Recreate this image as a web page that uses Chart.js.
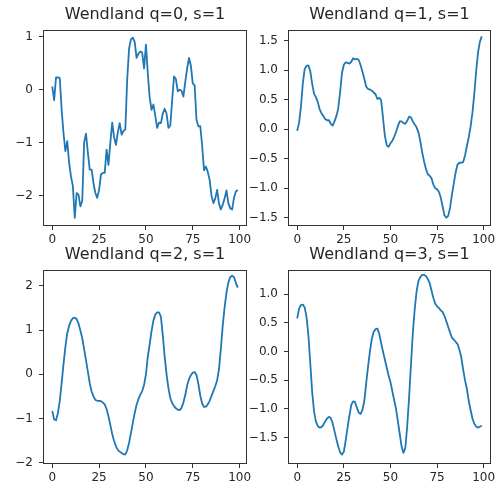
<!DOCTYPE html>
<html>
<head>
<meta charset="utf-8">
<title>Wendland covariance samples</title>
<script src="https://cdn.jsdelivr.net/npm/chart.js@4.4.1/dist/chart.umd.min.js"></script>
<style>
  html, body { margin: 0; padding: 0; background: #fff; }
  body { width: 495px; height: 488px; position: relative; overflow: hidden; }
  canvas { position: absolute; }
</style>
</head>
<body>
<canvas id="p0" width="255" height="250" style="left:0px;top:0px"></canvas>
<canvas id="p1" width="255" height="250" style="left:240px;top:0px"></canvas>
<canvas id="p2" width="255" height="248" style="left:0px;top:240px"></canvas>
<canvas id="p3" width="255" height="248" style="left:240px;top:240px"></canvas>
<script>
// Sampled paths, one value per index 0..99
const wendlandQ0 = [
  0.06, -0.2, 0.23, 0.23, 0.22, -0.38, -0.82, -1.16, -0.97, -1.38,
  -1.64, -1.82, -2.42, -1.95, -1.98, -2.2, -2.1, -1.0, -0.83, -1.19,
  -1.51, -1.51, -1.76, -1.95, -2.04, -1.89, -1.6, -1.57, -1.57, -1.13,
  -1.42, -1.0, -0.62, -0.9, -1.04, -0.8, -0.63, -0.85, -0.78, -0.75,
  0.2, 0.78, 0.95, 0.98, 0.9, 0.6, 0.68, 0.72, 0.7, 0.4,
  0.85, 0.3, -0.15, -0.38, -0.28, -0.5, -0.72, -0.62, -0.63, -0.45,
  -0.36, -0.45, -0.72, -0.68, -0.2, 0.25, 0.2, -0.03, 0.0, -0.02,
  -0.13, 0.15, 0.4, 0.6, 0.45, 0.12, 0.08, -0.57, -0.69, -0.69,
  -1.05, -1.52, -1.45, -1.55, -1.7, -2.0, -2.14, -2.05, -1.89, -2.15,
  -2.26, -2.17, -2.05, -1.9, -2.14, -2.24, -2.26, -2.04, -1.92, -1.89
];
const wendlandQ1 = [
  -0.03, 0.11, 0.38, 0.77, 1.02, 1.07, 1.08, 0.98, 0.77, 0.6,
  0.54, 0.46, 0.34, 0.27, 0.22, 0.17, 0.15, 0.15, 0.09, 0.06,
  0.13, 0.22, 0.35, 0.62, 0.95, 1.09, 1.13, 1.12, 1.11, 1.14,
  1.2, 1.18, 1.19, 1.17, 1.08, 0.97, 0.85, 0.72, 0.68, 0.67,
  0.65, 0.62, 0.59, 0.51, 0.53, 0.49, 0.2, -0.11, -0.27, -0.3,
  -0.24, -0.2, -0.13, -0.05, 0.05, 0.13, 0.13, 0.1, 0.09, 0.14,
  0.21, 0.2, 0.13, 0.08, 0.03, -0.05, -0.2, -0.39, -0.54, -0.67,
  -0.76, -0.79, -0.83, -0.94, -1.0, -1.02, -1.06, -1.16, -1.31, -1.46,
  -1.5, -1.47, -1.33, -1.11, -0.92, -0.73, -0.6, -0.57, -0.57, -0.56,
  -0.45, -0.29, -0.14, 0.04, 0.28, 0.6, 0.98, 1.3, 1.48, 1.57
];
const wendlandQ2 = [
  -0.83, -1.02, -1.04, -0.88, -0.6, -0.2, 0.23, 0.62, 0.93, 1.1,
  1.21, 1.27, 1.28, 1.25, 1.15, 0.99, 0.82, 0.57, 0.32, 0.06,
  -0.2, -0.39, -0.5, -0.58, -0.6, -0.6, -0.61, -0.64, -0.68, -0.79,
  -0.95, -1.15, -1.35, -1.51, -1.63, -1.71, -1.75, -1.78, -1.81, -1.81,
  -1.72, -1.55, -1.33, -1.1, -0.88, -0.69, -0.56, -0.46, -0.38, -0.24,
  0.0, 0.4, 0.68, 0.98, 1.22, 1.35, 1.4, 1.4, 1.3, 0.88,
  0.4, 0.0, -0.31, -0.54, -0.65, -0.72, -0.77, -0.8, -0.81, -0.76,
  -0.64, -0.47, -0.25, -0.11, -0.02, 0.04, 0.05, -0.02, -0.22, -0.48,
  -0.66, -0.74, -0.73, -0.68, -0.6, -0.49, -0.38, -0.27, -0.14, 0.12,
  0.58, 1.1, 1.52, 1.85, 2.08, 2.2, 2.23, 2.2, 2.07, 1.96
];
const wendlandQ3 = [
  0.58, 0.75, 0.81, 0.82, 0.77, 0.6, 0.28, -0.2, -0.7, -1.04,
  -1.22, -1.3, -1.33, -1.32, -1.28, -1.22, -1.17, -1.14, -1.16, -1.25,
  -1.39, -1.53, -1.66, -1.76, -1.8, -1.75, -1.55, -1.33, -1.12, -0.93,
  -0.87, -0.88, -0.98, -1.07, -1.09, -1.02, -0.86, -0.55, -0.26, 0.0,
  0.22, 0.34, 0.39, 0.4, 0.31, 0.15, 0.0, -0.14, -0.28, -0.42,
  -0.53, -0.69, -0.85, -1.0, -1.22, -1.44, -1.66, -1.77, -1.68, -1.3,
  -0.81, -0.24, 0.32, 0.73, 1.04, 1.23, 1.3, 1.34, 1.34, 1.32,
  1.27, 1.2, 1.07, 0.94, 0.84, 0.79, 0.76, 0.72, 0.69, 0.62,
  0.53, 0.43, 0.33, 0.24, 0.21, 0.17, 0.13, 0.03, -0.1, -0.31,
  -0.5, -0.65, -0.86, -1.02, -1.17, -1.26, -1.31, -1.33, -1.31, -1.3
];

const panelTitles = ['Wendland q=0, s=1', 'Wendland q=1, s=1', 'Wendland q=2, s=1', 'Wendland q=3, s=1'];

// Tick positions
const xTicks = [0, 25, 50, 75, 100];
const yTicksQ0 = [-2, -1, 0, 1];
const yTicksQ1 = [-1.5, -1.0, -0.5, 0.0, 0.5, 1.0, 1.5];
const yTicksQ2 = [-2, -1, 0, 1, 2];
const yTicksQ3 = [-1.5, -1.0, -0.5, 0.0, 0.5, 1.0];

// Axis view limits
const xLimits = [-4.95, 103.95];
const yLimitsQ0 = [-2.572, 1.126];
const yLimitsQ1 = [-1.641, 1.678];
const yLimitsQ2 = [-2.03, 2.36];
const yLimitsQ3 = [-1.964, 1.424];

Chart.defaults.font.family = "'DejaVu Sans', sans-serif";

const TEXT = '#262626';
const SPINE = '#333333';
const TICK_FONT = { family: "'DejaVu Sans', sans-serif", size: 12 };

function tickText(v, decimals) {
  const s = Math.abs(v).toFixed(decimals);
  return (v < 0 ? '\u2212' : '') + s;
}

// Closed box around the plotting area
const axesFrame = {
  id: 'axesFrame',
  afterDraw(chart) {
    const a = chart.chartArea;
    const ctx = chart.ctx;
    ctx.save();
    ctx.strokeStyle = SPINE;
    ctx.lineWidth = 1;
    ctx.strokeRect(a.left + 0.5, a.top + 0.5, a.right - a.left - 1, a.bottom - a.top - 1);
    ctx.restore();
  }
};

function panel(canvasId, title, values, yLimits, yTicks, decimals, yAxisWidth, padRight) {
  const points = values.map((v, i) => ({ x: i, y: v }));
  return new Chart(document.getElementById(canvasId), {
    type: 'line',
    data: {
      datasets: [{
        data: points,
        borderColor: '#1f77b4',
        borderWidth: 1.8,
        pointRadius: 0,
        tension: 0,
        fill: false,
        borderJoinStyle: 'round'
      }]
    },
    options: {
      responsive: false,
      animation: false,
      events: [],
      layout: { padding: { top: 7, right: padRight, left: 0, bottom: 0 } },
      plugins: {
        legend: { display: false },
        tooltip: { enabled: false },
        title: {
          display: true,
          text: title,
          fullSize: false,
          color: TEXT,
          font: { family: "'DejaVu Sans', sans-serif", size: 16, weight: 'normal', lineHeight: 1 },
          padding: { top: 0, bottom: 7 }
        }
      },
      scales: {
        x: {
          type: 'linear',
          bounds: 'data',
          min: xLimits[0],
          max: xLimits[1],
          afterBuildTicks: (s) => { s.ticks = xTicks.map(v => ({ value: v })); },
          afterFit: (s) => { s.height = 24; s.paddingLeft = 0; s.paddingRight = 0; },
          grid: { display: true, drawOnChartArea: false, drawTicks: true, tickLength: 4, color: SPINE, lineWidth: 1 },
          border: { display: false },
          ticks: {
            color: TEXT, font: TICK_FONT, padding: 3, maxRotation: 0, autoSkip: false,
            callback: (v) => tickText(v, 0)
          }
        },
        y: {
          type: 'linear',
          bounds: 'data',
          min: yLimits[0],
          max: yLimits[1],
          afterBuildTicks: (s) => { s.ticks = yTicks.map(v => ({ value: v })); },
          afterFit: (s) => { s.width = yAxisWidth; s.paddingTop = 0; s.paddingBottom = 0; },
          grid: { display: true, drawOnChartArea: false, drawTicks: true, tickLength: 4, color: SPINE, lineWidth: 1 },
          border: { display: false },
          ticks: {
            color: TEXT, font: TICK_FONT, padding: 6, autoSkip: false,
            callback: (v) => tickText(v, decimals)
          }
        }
      }
    },
    plugins: [axesFrame]
  });
}

panel('p0', panelTitles[0], wendlandQ0, yLimitsQ0, yTicksQ0, 0, 43, 8);
panel('p1', panelTitles[1], wendlandQ1, yLimitsQ1, yTicksQ1, 1, 48, 4);
panel('p2', panelTitles[2], wendlandQ2, yLimitsQ2, yTicksQ2, 0, 43, 8);
panel('p3', panelTitles[3], wendlandQ3, yLimitsQ3, yTicksQ3, 1, 48, 4);
</script>
</body>
</html>
